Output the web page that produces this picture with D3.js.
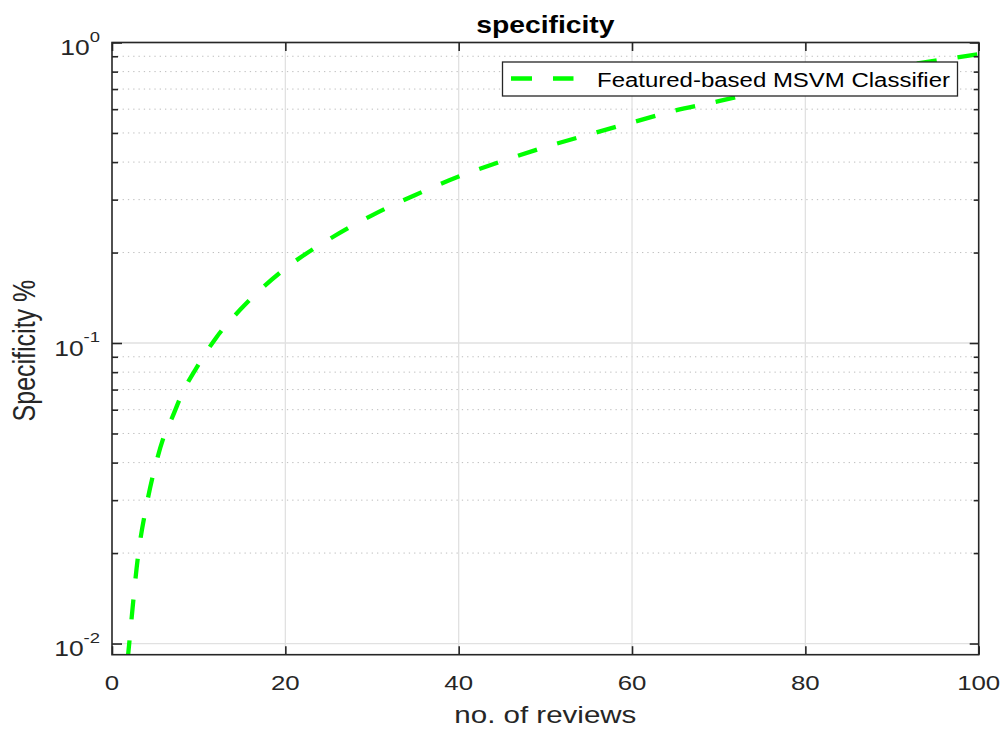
<!DOCTYPE html>
<html>
<head>
<meta charset="utf-8">
<script src="https://cdn.jsdelivr.net/npm/d3@7"></script>
<style>
  body { margin: 0; background: #fff; }
  text { font-family: "Liberation Sans", Arial, sans-serif; fill: #262626; }
</style>
</head>
<body>
<div id="chart"></div>
<script>
// data
const reviews = [1.8, 2, 3, 4, 5, 6, 7, 8, 10, 12, 15, 20, 25, 30, 35, 40, 45, 50, 55, 60, 65, 70, 75, 80, 85, 90, 95, 100]
const specificity = [0.0088, 0.0101, 0.0195, 0.029, 0.039, 0.049, 0.057, 0.067, 0.085, 0.104, 0.131, 0.177, 0.221, 0.266, 0.311, 0.358, 0.403, 0.449, 0.494, 0.542, 0.594, 0.638, 0.69, 0.74, 0.785, 0.828, 0.87, 0.915]
const xTicks = [0, 20, 40, 60, 80, 100]
const yMajor = [0.01, 0.1, 1]
const yExp = ['-2', '-1', '0']
const yMinor = [0.02, 0.03, 0.04, 0.05, 0.06, 0.07, 0.08, 0.09, 0.2, 0.3, 0.4, 0.5, 0.6, 0.7, 0.8, 0.9]
const seriesName = 'Featured-based MSVM Classifier'

const W = 1007, H = 730
const SX = 1.23 // picture is stretched sideways
const margin = { top: 42.5, right: 28.3, bottom: 75.3, left: 112 }
const width = W - margin.left - margin.right
const height = H - margin.top - margin.bottom

const svg = d3.select('#chart').append('svg').attr('width', W).attr('height', H)
const g = svg.append('g').attr('transform', `translate(${margin.left},${margin.top})`)

const x = d3.scaleLinear().domain([0, 100]).range([0, width])
const y = d3.scaleLog().domain([0.00918, 1]).range([height, 0])

// grid: minor dotted, major solid
g.append('g').selectAll('line').data(yMinor).join('line')
  .attr('x1', 0).attr('x2', width)
  .attr('y1', d => y(d)).attr('y2', d => y(d))
  .attr('stroke', '#bdbdbd').attr('stroke-width', 1).attr('stroke-dasharray', '1.3,4')
g.append('g').selectAll('line').data(yMajor).join('line')
  .attr('x1', 0).attr('x2', width)
  .attr('y1', d => y(d)).attr('y2', d => y(d))
  .attr('stroke', '#e1e1e1').attr('stroke-width', 1.3)
g.append('g').selectAll('line').data(xTicks.slice(1, -1)).join('line')
  .attr('x1', d => x(d)).attr('x2', d => x(d))
  .attr('y1', 0).attr('y2', height)
  .attr('stroke', '#e1e1e1').attr('stroke-width', 1.3)

// curve
g.append('defs').append('clipPath').attr('id', 'clip')
  .append('rect').attr('width', width).attr('height', height)

const pts = reviews.map((r, i) => [r, specificity[i]])
const line = d3.line().x(d => x(d[0])).y(d => y(d[1])).curve(d3.curveMonotoneX)
g.append('path')
  .attr('clip-path', 'url(#clip)')
  .attr('d', line(pts))
  .attr('fill', 'none')
  .attr('stroke', '#00ff00')
  .attr('stroke-width', 4.3)
  .attr('stroke-dasharray', '20,21')

// axes, ticks pointing inward
const axisStyle = (sel) => {
  sel.select('.domain').remove()
  sel.selectAll('line').attr('stroke', '#262626').attr('stroke-width', 1.6)
  sel.selectAll('text').remove()
}
g.append('g').attr('transform', `translate(0,${height})`)
  .call(d3.axisBottom(x).tickValues(xTicks).tickSize(-8.5)).call(axisStyle)
g.append('g')
  .call(d3.axisTop(x).tickValues(xTicks).tickSize(-8.5)).call(axisStyle)
g.append('g')
  .call(d3.axisLeft(y).tickValues(yMajor).tickSize(-10)).call(axisStyle)
g.append('g')
  .call(d3.axisLeft(y).tickValues(yMinor).tickSize(-6)).call(axisStyle)
g.append('g').attr('transform', `translate(${width},0)`)
  .call(d3.axisRight(y).tickValues(yMajor).tickSize(-9)).call(axisStyle)
g.append('g').attr('transform', `translate(${width},0)`)
  .call(d3.axisRight(y).tickValues(yMinor).tickSize(-5)).call(axisStyle)

// box
g.append('rect').attr('width', width).attr('height', height)
  .attr('fill', 'none').attr('stroke', '#262626').attr('stroke-width', 1.6)

// x tick labels
g.append('g').selectAll('text').data(xTicks).join('text')
  .attr('transform', d => `translate(${x(d)},${height + 34.8}) scale(${SX},1)`)
  .attr('text-anchor', 'middle').attr('font-size', 21)
  .text(d => d)

// y tick labels with exponent
const yl = g.append('g').selectAll('text').data(yMajor).join('text')
  .attr('transform', d => `translate(-12,${y(d) + 12.5}) scale(${SX},1)`)
  .attr('text-anchor', 'end').attr('font-size', 21.5)
yl.append('tspan').text('10')
yl.append('tspan').attr('dy', -13.5).attr('font-size', 15).text((d, i) => yExp[i])

// title and axis labels
svg.append('text')
  .attr('transform', `translate(${margin.left + width / 2},33) scale(${SX},1)`)
  .attr('text-anchor', 'middle').attr('font-size', 23).attr('font-weight', 'bold')
  .style('fill', '#000')
  .text('specificity')
svg.append('text')
  .attr('transform', `translate(${margin.left + width / 2},723) scale(${SX},1)`)
  .attr('text-anchor', 'middle').attr('font-size', 24)
  .text('no. of reviews')
svg.append('text')
  .attr('transform', `translate(35,${margin.top + height / 2 + 2}) scale(${SX},1) rotate(-90)`)
  .attr('text-anchor', 'middle').attr('font-size', 25)
  .text('Specificity %')

// legend
const lg = svg.append('g').attr('transform', 'translate(502.5,62)')
lg.append('rect').attr('width', 455).attr('height', 34)
  .attr('fill', '#fff').attr('stroke', '#262626').attr('stroke-width', 1.3)
lg.append('line').attr('x1', 8.5).attr('x2', 71).attr('y1', 16.5).attr('y2', 16.5)
  .attr('stroke', '#00ff00').attr('stroke-width', 4.3).attr('stroke-dasharray', '21,21')
lg.append('text')
  .attr('transform', `translate(94.5,24.7) scale(${SX},1)`)
  .attr('font-size', 19.5).style('fill', '#000')
  .text(seriesName)
</script>
</body>
</html>
